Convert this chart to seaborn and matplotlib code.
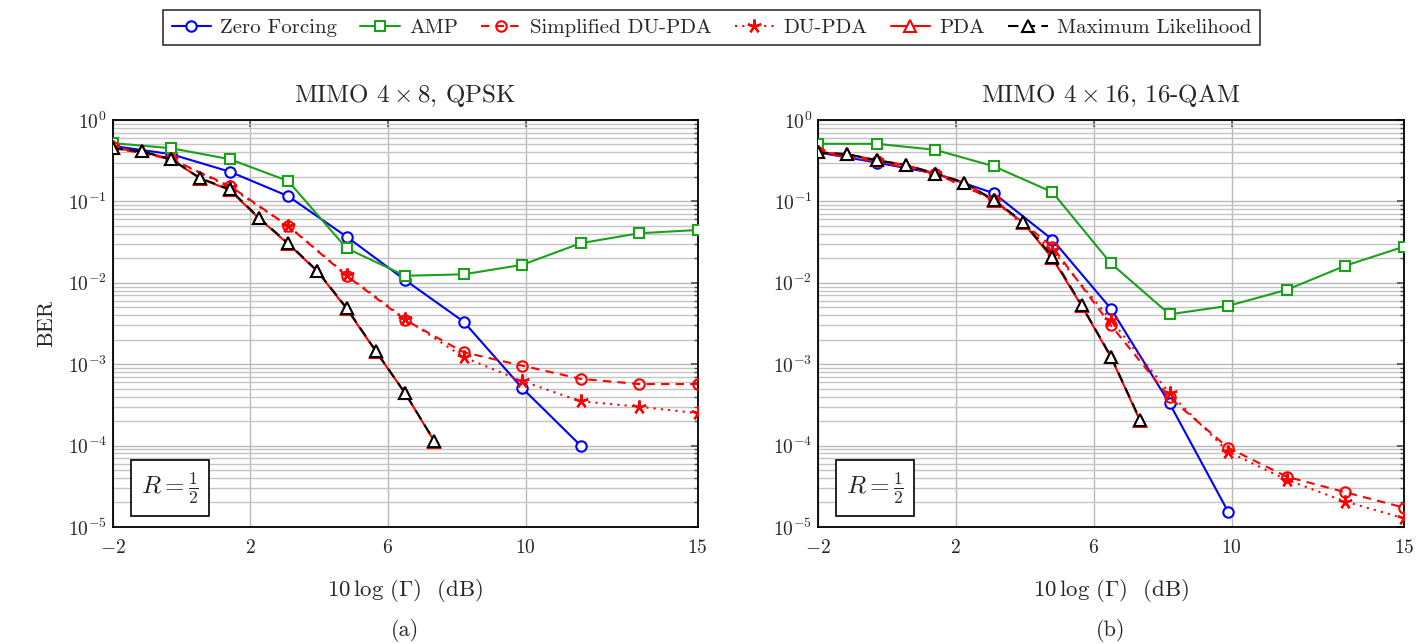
import matplotlib
matplotlib.use("Agg")
import matplotlib.pyplot as plt
import matplotlib.ticker as mticker
import seaborn as sns

# x grids (dB)
snr_coarse = [-2, -0.3, 1.4, 3.1, 4.8, 6.5, 8.2, 9.9, 11.6, 13.3, 15]
snr_fine = [-2, -1.15, -0.3, 0.55, 1.4, 2.25, 3.1, 3.95, 4.8, 5.65, 6.5, 7.35]

# panel (a): MIMO 4x8, QPSK
zf_a = [0.48, 0.38, 0.232, 0.116, 0.0368, 0.0108, 0.00333, 5.1e-4, 1.0e-4]
amp_a = [0.52, 0.45, 0.33, 0.178, 0.0265, 0.0122, 0.0127, 0.0166, 0.0306, 0.0406, 0.0445]
sdupda_a = [0.46, 0.33, 0.155, 0.050, 0.0122, 0.0035, 0.0014, 9.6e-4, 6.6e-4, 5.7e-4, 5.7e-4]
dupda_a = [0.46, 0.33, 0.150, 0.050, 0.0125, 0.0036, 0.00122, 6.2e-4, 3.5e-4, 3.0e-4, 2.5e-4]
pda_a = [0.45, 0.41, 0.33, 0.19, 0.138, 0.062, 0.030, 0.0138, 0.0048, 0.00143, 4.4e-4, 1.12e-4]
ml_a = [0.45, 0.41, 0.33, 0.192, 0.141, 0.063, 0.0306, 0.014, 0.0049, 0.00145, 4.4e-4, 1.14e-4]

# panel (b): MIMO 4x16, 16-QAM
zf_b = [0.40, 0.30, 0.22, 0.126, 0.034, 0.0048, 3.3e-4, 1.54e-5]
amp_b = [0.51, 0.51, 0.43, 0.27, 0.13, 0.0173, 0.0041, 0.0052, 0.0082, 0.0162, 0.0278]
sdupda_b = [0.40, 0.31, 0.22, 0.105, 0.0278, 0.0030, 3.9e-4, 9.4e-5, 4.15e-5, 2.67e-5, 1.73e-5]
dupda_b = [0.40, 0.31, 0.22, 0.104, 0.025, 0.0035, 4.4e-4, 8.4e-5, 3.8e-5, 2.05e-5, 1.28e-5]
pda_b = [0.40, 0.38, 0.32, 0.28, 0.22, 0.17, 0.102, 0.055, 0.020, 0.0052, 0.00122, 2.0e-4]
ml_b = [0.40, 0.38, 0.32, 0.28, 0.22, 0.17, 0.104, 0.056, 0.021, 0.0053, 0.00124, 2.06e-4]

titles = [r"MIMO $4\times 8$, QPSK", r"MIMO $4\times 16$, 16-QAM"]
captions = ["(a)", "(b)"]
xticks = [-2, 2, 6, 10, 15]

BLUE = "#0000ff"
GREEN = "#1ba01b"
RED = "#ff0000"
BLACK = "#000000"

sns.set_theme(style="white")
plt.rcParams["font.family"] = "serif"
plt.rcParams["font.serif"] = ["cmr10", "DejaVu Serif"]
plt.rcParams["mathtext.fontset"] = "cm"
plt.rcParams["axes.formatter.use_mathtext"] = True
plt.rcParams["axes.unicode_minus"] = True

fig = plt.figure(figsize=(14.24, 6.44), dpi=100)
ax_a = fig.add_axes([0.0791, 0.1817, 0.4108, 0.632])
ax_b = fig.add_axes([0.5744, 0.1817, 0.4115, 0.632])

panels = [
    (ax_a, zf_a, amp_a, sdupda_a, dupda_a, pda_a, ml_a),
    (ax_b, zf_b, amp_b, sdupda_b, dupda_b, pda_b, ml_b),
]

ms = 7.5
lw = 1.5
for i, (ax, zf, amp, sdu, du, pda, ml) in enumerate(panels):
    sns.lineplot(x=snr_coarse[:len(zf)], y=zf, ax=ax, color=BLUE, lw=lw,
                 marker="o", ms=ms, mfc="white", mec=BLUE, mew=1.5,
                 label="Zero Forcing", zorder=3)
    sns.lineplot(x=snr_coarse[:len(amp)], y=amp, ax=ax, color=GREEN, lw=lw,
                 marker="s", ms=ms, mfc="white", mec=GREEN, mew=1.5,
                 label="AMP", zorder=3)
    sns.lineplot(x=snr_coarse[:len(sdu)], y=sdu, ax=ax, color=RED, lw=lw,
                 linestyle=(0, (4, 3)), marker="o", ms=ms, mfc="none",
                 mec=RED, mew=1.5, label="Simplified DU-PDA", zorder=4)
    sns.lineplot(x=snr_coarse[:len(du)], y=du, ax=ax, color=RED, lw=lw,
                 linestyle=(0, (1, 2.5)), marker=(5, 2, 0), ms=10, mfc=RED,
                 mec=RED, mew=1.6, label="DU-PDA", zorder=4)
    sns.lineplot(x=snr_fine[:len(pda)], y=pda, ax=ax, color=RED, lw=lw,
                 marker="^", ms=ms + 1, mfc="white", mec=RED, mew=1.5,
                 label="PDA", zorder=5)
    sns.lineplot(x=snr_fine[:len(ml)], y=ml, ax=ax, color=BLACK, lw=lw,
                 linestyle=(0, (5, 3)), marker="^", ms=ms + 1, mfc="white",
                 mec=BLACK, mew=1.5, label="Maximum Likelihood", zorder=6)

    ax.set_yscale("log")
    ax.set_ylim(1e-5, 1)
    ax.set_xlim(-2, 15)
    ax.set_xticks(xticks)
    ax.yaxis.set_major_locator(mticker.LogLocator(base=10, numticks=10))
    ax.yaxis.set_minor_locator(mticker.LogLocator(base=10, subs=range(2, 10), numticks=20))
    ax.yaxis.set_minor_formatter(mticker.NullFormatter())
    ax.grid(True, which="major", color="#b8b8b8", lw=1.0)
    ax.grid(True, which="minor", axis="y", color="#c4c4c4", lw=1.0)
    ax.set_axisbelow(True)
    ax.tick_params(which="both", direction="in", top=True, right=True,
                   labelsize=14, color="#555555")
    ax.tick_params(axis="x", which="major", pad=9)
    ax.tick_params(axis="y", which="major", pad=4)
    ax.tick_params(which="major", length=5)
    ax.tick_params(which="minor", length=3)
    for sp in ax.spines.values():
        sp.set_color("black")
        sp.set_linewidth(1.3)
    ax.set_title(titles[i], fontsize=18, pad=13)
    ax.set_xlabel(r"$10\,\log\,(\Gamma)$  (dB)", fontsize=16.5, labelpad=14)
    ax.text(0.5, -0.255, captions[i], transform=ax.transAxes, ha="center",
            va="center", fontsize=16)
    ax.text(0.048, 0.096, r"$R=\frac{1}{2}$", transform=ax.transAxes,
            fontsize=18, ha="left", va="center",
            bbox=dict(boxstyle="square,pad=0.4", fc="white", ec="black", lw=1.2))
    ax.get_legend().remove()

ax_a.set_ylabel("BER", fontsize=16, labelpad=8)

handles, labels = ax_a.get_legend_handles_labels()
leg = fig.legend(handles, labels, loc="center", bbox_to_anchor=(0.4996, 0.957),
                 ncol=6, fontsize=15, frameon=True, fancybox=False,
                 edgecolor="black", handlelength=1.9, handletextpad=0.45,
                 columnspacing=1.1, borderpad=0.4)
leg.get_frame().set_linewidth(1.2)

fig.savefig("out.png", dpi=100)
